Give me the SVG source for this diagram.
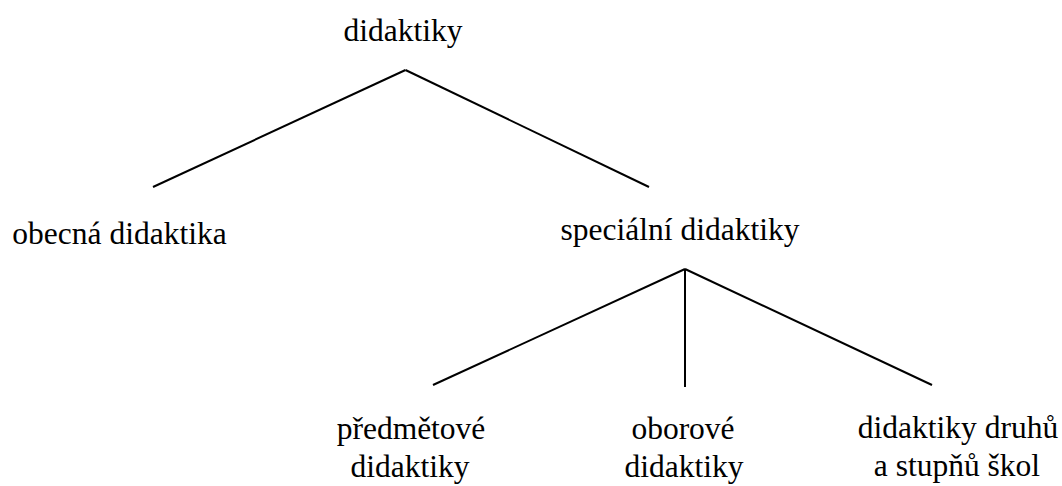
<svg xmlns="http://www.w3.org/2000/svg" width="1062" height="486" viewBox="0 0 1062 486">
<style>
.t{font-size:31.5px;fill:#000;text-anchor:middle}
.c line{stroke:#000;stroke-width:2;stroke-linecap:butt}
</style>
<rect width="1062" height="486" fill="#fff"/>
<g class="c" id="connectors">
<line x1="405.5" y1="70" x2="153" y2="187"/>
<line x1="405.5" y1="70" x2="649" y2="187"/>
<line x1="685" y1="269" x2="433" y2="385"/>
<line x1="685" y1="269" x2="685" y2="387"/>
<line x1="685" y1="269" x2="932" y2="385"/>
</g>
<g class="t" font-family="'Liberation Serif', 'Times New Roman', Times, serif">
<g id="root"><text x="403" y="41">didaktiky</text></g>
<g id="obecna"><text x="119.5" y="244">obecná didaktika</text></g>
<g id="specialni"><text x="680" y="240">speciální didaktiky</text></g>
<g id="predmetove"><text x="411" y="439">předmětové</text><text x="410" y="477">didaktiky</text></g>
<g id="oborove"><text x="683" y="439">oborové</text><text x="684" y="477">didaktiky</text></g>
<g id="druhu"><text x="958" y="438">didaktiky druhů</text><text x="957" y="476">a stupňů škol</text></g>
</g>
</svg>
